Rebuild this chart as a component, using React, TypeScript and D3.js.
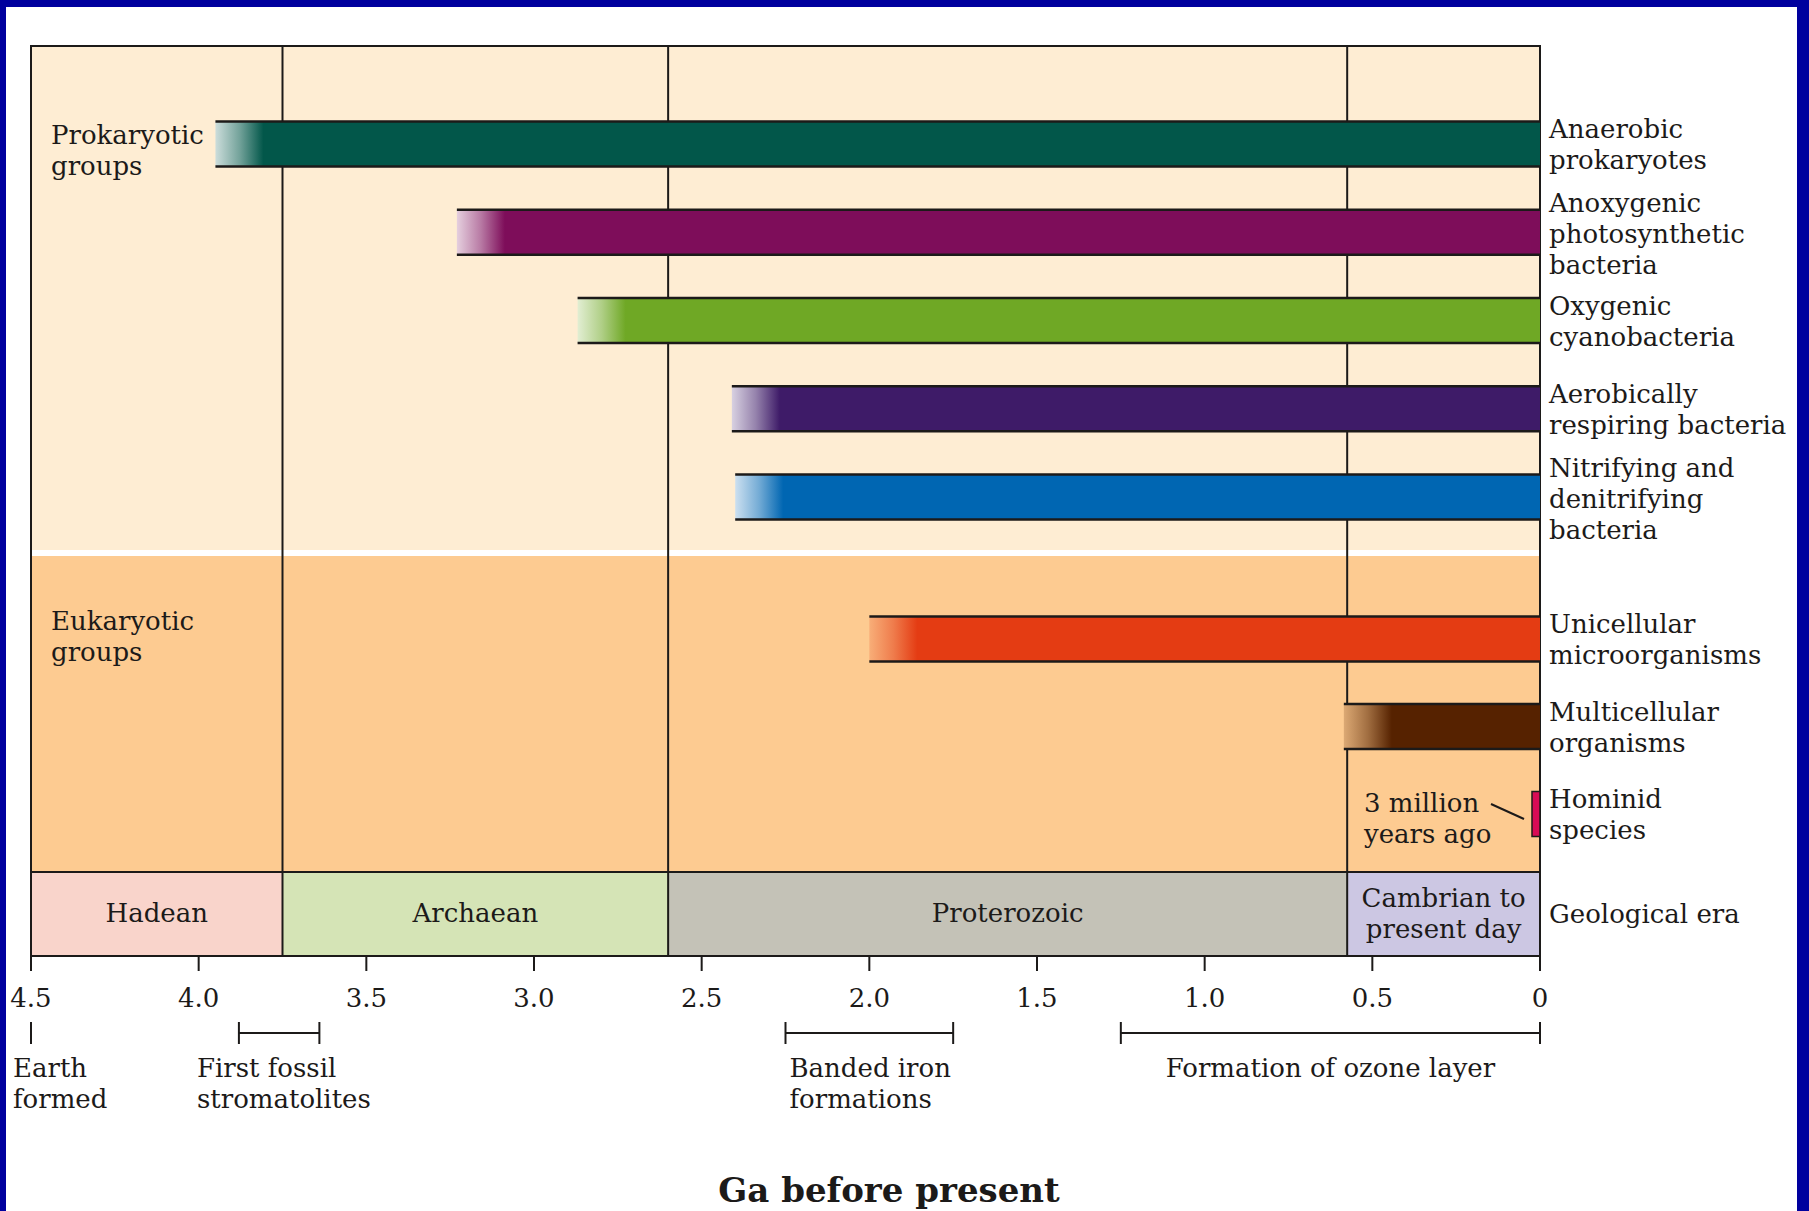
import React from "react";
import * as d3 from "d3";

// ---------- data ----------
const tickValues = [4.5, 4.0, 3.5, 3.0, 2.5, 2.0, 1.5, 1.0, 0.5, 0];
const tickLabels = ["4.5", "4.0", "3.5", "3.0", "2.5", "2.0", "1.5", "1.0", "0.5", "0"];

const eraNames = [["Hadean"], ["Archaean"], ["Proterozoic"], ["Cambrian to", "present day"]];
const eraStart = [4.5, 3.75, 2.6, 0.575];
const eraEnd = [3.75, 2.6, 0.575, 0];

const prokLabels = [
  ["Anaerobic", "prokaryotes"],
  ["Anoxygenic", "photosynthetic", "bacteria"],
  ["Oxygenic", "cyanobacteria"],
  ["Aerobically", "respiring bacteria"],
  ["Nitrifying and", "denitrifying", "bacteria"],
];
const prokOrigin = [3.95, 3.23, 2.87, 2.41, 2.4];

const eukLabels = [
  ["Unicellular", "microorganisms"],
  ["Multicellular", "organisms"],
  ["Hominid", "species"],
];
const eukOrigin = [2.0, 0.585, 0.003];

const groupLabels = [["Prokaryotic", "groups"], ["Eukaryotic", "groups"]];

const eventLabels = [["Earth", "formed"], ["First fossil", "stromatolites"], ["Banded iron", "formations"], ["Formation of ozone layer"]];
const eventStart = [4.5, 3.88, 2.25, 1.25];
const eventEnd = [4.5, 3.64, 1.75, 0];

const hominidNote = ["3 million", "years ago"];
const axisTitle = "Ga before present";
const eraRowLabel = "Geological era";

// ---------- styles ----------
const prokColors = ["#02574A", "#7E0D5A", "#6FA825", "#3E1B68", "#0066B2"];
const eukColors = ["#E43C13", "#562200", "#D80B55"];
const eraColors = ["#F9D4CB", "#D5E4B6", "#C4C2B7", "#CCC7E3"];
const prokBg = "#FEEDD3";
const eukBg = "#FDCB91";
const ink = "#1c1a19";
const FONT = "'DejaVu Serif', 'Liberation Serif', serif";
const FS = 26;
const LH = 31;

// ---------- layout ----------
const W = 1809;
const H = 1211;
const plotLeft = 31;
const plotRight = 1540;
const plotTop = 46;
const divY = 553;
const eraTop = 872;
const eraBottom = 956;
const barH = 45;

const x = d3.scaleLinear().domain([4.5, 0]).range([plotLeft, plotRight]);
const yProk = d3.scaleLinear().domain([0, prokLabels.length - 1]).range([144, 497]);
const yEuk = d3.scaleLinear().domain([0, eukLabels.length - 1]).range([639, 814]);

const eventTextLayout = [
  { anchor: "start", dx: -18 },
  { anchor: "start", dx: -42 },
  { anchor: "start", dx: 4 },
  { anchor: "middle", dx: 0 },
];

function labelBaselines(center: number, n: number) {
  const first = center - 6 - (n - 2) * 14.5;
  return d3.range(n).map((i) => first + i * LH);
}

type Bar = { key: string; origin: number; color: string; bg: string; cy: number; lines: string[]; fade: boolean };

const bars: Bar[] = [
  ...prokLabels.map((l, i) => ({ key: "p" + i, origin: prokOrigin[i], color: prokColors[i], bg: "#ffffff", cy: yProk(i), lines: l, fade: true })),
  ...eukLabels.map((l, i) => ({ key: "e" + i, origin: eukOrigin[i], color: eukColors[i], bg: eukBg, cy: yEuk(i), lines: l, fade: i < eukLabels.length - 1 })),
];

export default function App() {
  const boundaries = eraStart.slice(1);
  const tickY1 = 1022;
  const tickY2 = 1044;
  const bracketY = 1033;
  const homBar = bars[bars.length - 1];
  const homX = Math.min(x(homBar.origin), plotRight - 8);
  return (
    <svg
      width={W}
      height={H}
      viewBox={`0 0 ${W} ${H}`}
      style={{ position: "absolute", left: 0, top: 0, display: "block" }}
      fontFamily={FONT}
    >
      <defs>
        {bars
          .filter((b) => b.fade)
          .map((b) => {
            const x0 = x(b.origin);
            const mix = d3.interpolateRgb(b.color, b.bg);
            return (
              <linearGradient key={b.key} id={"g" + b.key} gradientUnits="userSpaceOnUse" x1={x0} x2={x0 + 48} y1={0} y2={0}>
                <stop offset="0" stopColor={mix(0.8)} />
                <stop offset="0.5" stopColor={mix(0.45)} />
                <stop offset="1" stopColor={b.color} />
              </linearGradient>
            );
          })}
      </defs>

      {/* frame */}
      <rect x={0} y={0} width={W} height={H} fill="#00009E" />
      <rect x={6} y={7} width={1797 - 6} height={H - 7} fill="#ffffff" />

      {/* group backgrounds */}
      <rect x={plotLeft} y={plotTop} width={plotRight - plotLeft} height={divY - plotTop} fill={prokBg} />
      <rect x={plotLeft} y={divY} width={plotRight - plotLeft} height={eraTop - divY} fill={eukBg} />
      <line x1={plotLeft} x2={plotRight} y1={divY} y2={divY} stroke="#ffffff" strokeWidth={6} />

      {/* era band */}
      {eraNames.map((n, i) => (
        <rect key={"er" + i} x={x(eraStart[i])} y={eraTop} width={x(eraEnd[i]) - x(eraStart[i])} height={eraBottom - eraTop} fill={eraColors[i]} />
      ))}

      {/* era boundary lines */}
      {boundaries.map((b, i) => (
        <line key={"bl" + i} x1={x(b)} x2={x(b)} y1={plotTop} y2={eraBottom} stroke={ink} strokeWidth={2} />
      ))}

      {/* plot border */}
      <rect x={plotLeft} y={plotTop} width={plotRight - plotLeft} height={eraBottom - plotTop} fill="none" stroke={ink} strokeWidth={2} />
      <line x1={plotLeft} x2={plotRight} y1={eraTop} y2={eraTop} stroke={ink} strokeWidth={2} />

      {/* bars */}
      {bars.map((b) => {
        const isHom = !b.fade;
        const x0 = isHom ? homX : x(b.origin);
        const y0 = b.cy - barH / 2;
        if (isHom) {
          return (
            <rect key={b.key} x={x0} y={y0} width={plotRight - x0} height={barH} fill={b.color} stroke={ink} strokeWidth={1.5} />
          );
        }
        return (
          <g key={b.key}>
            <rect x={x0} y={y0} width={plotRight - x0} height={barH} fill={`url(#g${b.key})`} />
            <line x1={x0} x2={plotRight} y1={y0} y2={y0} stroke={ink} strokeWidth={2.5} />
            <line x1={x0} x2={plotRight} y1={y0 + barH} y2={y0 + barH} stroke={ink} strokeWidth={2.5} />
          </g>
        );
      })}

      {/* right labels */}
      {bars.map((b) => {
        const ys = labelBaselines(b.cy, b.lines.length);
        return (
          <text key={"t" + b.key} fontSize={FS} fill={ink}>
            {b.lines.map((l, j) => (
              <tspan key={j} x={1549} y={ys[j]}>
                {l}
              </tspan>
            ))}
          </text>
        );
      })}
      <text x={1549} y={(eraTop + eraBottom) / 2 + 9} fontSize={FS} fill={ink}>
        {eraRowLabel}
      </text>

      {/* group labels */}
      {groupLabels.map((g, i) => {
        const base = i === 0 ? 144 : 630;
        return (
          <text key={"gl" + i} fontSize={FS} fill={ink}>
            {g.map((l, j) => (
              <tspan key={j} x={51} y={base + j * LH}>
                {l}
              </tspan>
            ))}
          </text>
        );
      })}

      {/* era labels */}
      {eraNames.map((n, i) => {
        const cx = (x(eraStart[i]) + x(eraEnd[i])) / 2;
        const cy = (eraTop + eraBottom) / 2;
        const first = cy + 8 - ((n.length - 1) * LH) / 2;
        return (
          <text key={"en" + i} fontSize={FS} fill={ink} textAnchor="middle">
            {n.map((l, j) => (
              <tspan key={j} x={cx} y={first + j * LH}>
                {l}
              </tspan>
            ))}
          </text>
        );
      })}

      {/* hominid note */}
      <text fontSize={FS} fill={ink}>
        {hominidNote.map((l, j) => (
          <tspan key={j} x={1364} y={812 + j * LH}>
            {l}
          </tspan>
        ))}
      </text>
      <line x1={1491} y1={804} x2={homX - 8} y2={homBar.cy + 5} stroke={ink} strokeWidth={2} />

      {/* axis ticks */}
      {tickValues.map((t, i) => (
        <g key={"tk" + i}>
          <line x1={x(t)} x2={x(t)} y1={eraBottom} y2={eraBottom + 15} stroke={ink} strokeWidth={2} />
          <text x={x(t)} y={1007} fontSize={FS} fill={ink} textAnchor="middle">
            {tickLabels[i]}
          </text>
        </g>
      ))}

      {/* events */}
      {eventLabels.map((lines, i) => {
        const xs = x(eventStart[i]);
        const xe = x(eventEnd[i]);
        const lay = eventTextLayout[i];
        const tx = lay.anchor === "middle" ? (xs + xe) / 2 : xs + lay.dx;
        return (
          <g key={"ev" + i}>
            <line x1={xs} x2={xs} y1={tickY1} y2={tickY2} stroke={ink} strokeWidth={2} />
            {xe !== xs && (
              <>
                <line x1={xe} x2={xe} y1={tickY1} y2={tickY2} stroke={ink} strokeWidth={2} />
                <line x1={xs} x2={xe} y1={bracketY} y2={bracketY} stroke={ink} strokeWidth={2} />
              </>
            )}
            <text fontSize={FS} fill={ink} textAnchor={lay.anchor as any}>
              {lines.map((l, j) => (
                <tspan key={j} x={tx} y={1077 + j * LH}>
                  {l}
                </tspan>
              ))}
            </text>
          </g>
        );
      })}

      {/* axis title */}
      <text x={889} y={1202} fontSize={34} fontWeight="bold" fill={ink} textAnchor="middle">
        {axisTitle}
      </text>
    </svg>
  );
}
